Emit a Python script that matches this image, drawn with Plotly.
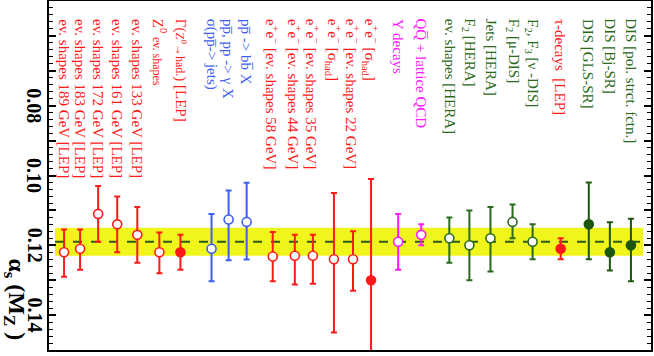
import plotly.graph_objects as go

# alpha_s(M_Z) measurements, left to right
positions = [0.75, 1.55, 2.45, 3.4, 4.4, 5.5, 6.55,
             8.1, 8.95, 9.85,
             11.15, 12.25, 13.15, 14.2, 15.15, 16.05,
             17.4, 18.55,
             19.95, 20.95, 22.0, 23.1, 24.1,
             25.5,
             26.9, 27.95, 29.0]
alpha_s = [0.122, 0.121, 0.111, 0.114, 0.117, 0.122, 0.122,
           0.121, 0.1126, 0.1133,
           0.1232, 0.123, 0.123, 0.124, 0.124, 0.130,
           0.119, 0.117,
           0.118, 0.120, 0.118, 0.1133, 0.119,
           0.121,
           0.114, 0.122, 0.120]
err_low = [0.0065, 0.0055, 0.008, 0.008, 0.008, 0.0057, 0.005,
           0.010, 0.0083, 0.0112,
           0.007, 0.006, 0.006, 0.019, 0.008, 0.029,
           0.008, 0.003,
           0.006, 0.010, 0.009, 0.005, 0.005,
           0.003,
           0.012, 0.0086, 0.0076]
err_high = [0.007, 0.006, 0.008, 0.008, 0.008, 0.006, 0.005,
            0.0093, 0.0117, 0.0108,
            0.0071, 0.0082, 0.008, 0.021, 0.009, 0.029,
            0.008, 0.003,
            0.007, 0.010, 0.0095, 0.0047, 0.005,
            0.003,
            0.010, 0.0052, 0.0103]
groups = ["red"] * 7 + ["blue"] * 3 + ["red"] * 6 + ["magenta"] * 2 + ["green"] * 5 + ["red"] + ["green"] * 3
filled = [False] * 6 + [True] + [False] * 8 + [True] + [False] * 7 + [True] * 4

ee = "e<sup>+</sup>e<sup>−</sup>"
labels = [
    "ev. shapes 189 GeV [LEP]",
    "ev. shapes 183 GeV [LEP]",
    "ev. shapes 172 GeV [LEP]",
    "ev. shapes 161 GeV [LEP]",
    "ev. shapes 133 GeV [LEP]",
    "Z<sup>0</sup> <span style='font-size:12px'>ev. shapes</span>",
    "Γ(<span style='font-size:12px'>Z<sup>0</sup>→had.</span>) [LEP]",
    "σ(pp̅-> jets)",
    "pp̅, pp -> γ X",
    "pp̅ -> bb̅ X",
    ee + " [ev. shapes 58 GeV]",
    ee + " [ev. shapes 44 GeV]",
    ee + " [ev. shapes 35 GeV]",
    ee + " [σ<sub>had</sub>]",
    ee + " [ev. shapes 22 GeV]",
    ee + " [σ<sub>had</sub>]",
    "Υ decays",
    "QQ̅ + lattice QCD",
    "ev. shapes [HERA]",
    "F<sub>2</sub> [HERA]",
    "Jets [HERA]",
    "F<sub>2</sub> [μ-DIS]",
    "F<sub>2</sub>, F<sub>3</sub> [ν -DIS]",
    "τ-decays  [LEP]",
    "DIS [GLS-SR]",
    "DIS [Bj-SR]",
    "DIS [pol. strct. fctn.]",
]

world_avg = 0.119
world_err = 0.004

tick_vals = [0.05, 0.06, 0.07, 0.08, 0.09, 0.10, 0.11, 0.12, 0.13, 0.14, 0.15]
label_vals = [0.08, 0.10, 0.12, 0.14]
label_text = ["0.08", "0.10", "0.12", "0.14"]

colors = {"red": "#ff1a1a", "blue": "#3f5ff0", "magenta": "#ff1aff", "green": "#2b6a1c"}
dark_green = "#1c560c"
serif = "Liberation Serif"

fig = go.Figure()

# world average band + dashed line
fig.add_shape(type="rect", xref="paper", yref="y", x0=0.01, x1=0.987,
              y0=world_avg - world_err, y1=world_avg + world_err,
              fillcolor="#f0f51c", line_width=0, layer="below")
fig.add_shape(type="line", xref="paper", yref="y", x0=0.01, x1=0.987,
              y0=world_avg, y1=world_avg,
              line=dict(color="#2d5a1e", width=2, dash="dash"), layer="below")

for x, y, lo, hi, g, f in zip(positions, alpha_s, err_low, err_high, groups, filled):
    c = colors[g]
    if g == "green" and f:
        c = dark_green
    fig.add_trace(go.Scatter(
        x=[x], y=[y], mode="markers",
        marker=dict(symbol="circle", size=9, color=c if f else "white",
                    line=dict(color=c, width=1.6)),
        error_y=dict(type="data", symmetric=False, array=[hi], arrayminus=[lo],
                     color=c, thickness=2, width=3),
        showlegend=False, cliponaxis=True,
    ))

for x, txt, g in zip(positions, labels, groups):
    fig.add_annotation(x=x, y=0.0545, xref="x", yref="y", text=txt,
                       textangle=90, xanchor="center", yanchor="top",
                       showarrow=False, font=dict(family=serif, size=15, color=colors[g]))

# rotated tick labels, centred on their ticks
for v, t in zip(label_vals, label_text):
    fig.add_annotation(x=-0.024, y=v, xref="paper", yref="y", text=t,
                       textangle=90, xanchor="center", yanchor="middle", showarrow=False,
                       font=dict(family=serif, size=20, color="black", weight="bold"))

fig.add_annotation(x=-0.058, y=0.1232, xref="paper", yref="y",
                   text="α<sub>s</sub> (M<sub>Z</sub> )", textangle=90,
                   xanchor="center", yanchor="top", showarrow=False,
                   font=dict(family=serif, size=24, color="black", weight="bold"))

fig.update_yaxes(range=[0.15, 0.05], autorange=False, automargin=False,
                 tickvals=tick_vals, showticklabels=False,
                 ticks="inside", ticklen=7, tickwidth=1.5, tickcolor="black",
                 minor=dict(dtick=0.002, tick0=0.05, ticks="inside", ticklen=4,
                            tickwidth=1, tickcolor="black"),
                 showline=True, linewidth=2, linecolor="black", mirror="allticks",
                 showgrid=False, zeroline=False)
fig.update_xaxes(range=[0, 30], autorange=False, automargin=False,
                 showline=True, linewidth=2, linecolor="black",
                 mirror=True, showticklabels=False, ticks="", showgrid=False, zeroline=False)

fig.update_layout(width=654, height=356, plot_bgcolor="white", paper_bgcolor="white",
                  margin=dict(l=49, r=3, t=1, b=6))
fig.write_html("out.html", config={"displayModeBar": False},
               post_script="document.body.style.margin='0';")
